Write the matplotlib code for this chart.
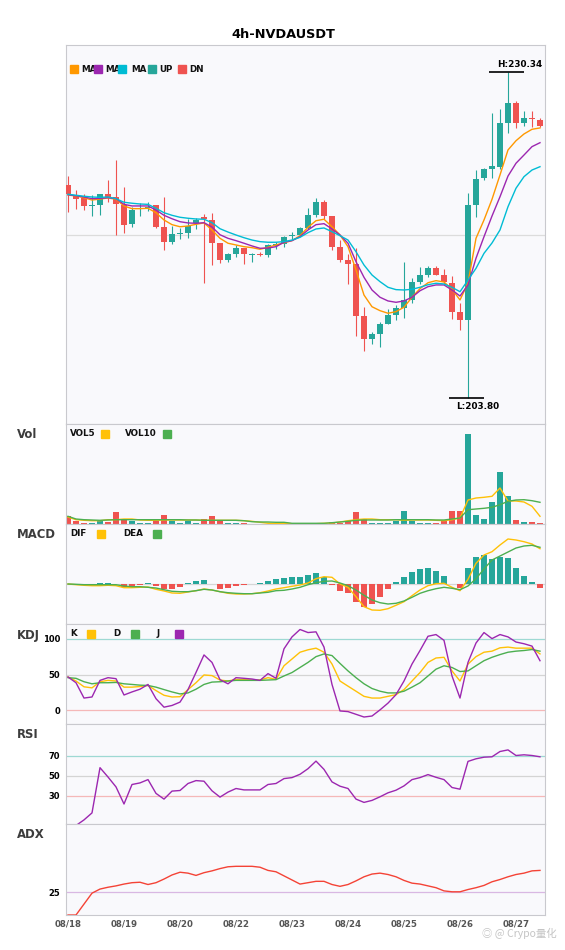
import matplotlib
matplotlib.use('Agg')
import matplotlib.pyplot as plt
from matplotlib.patches import Rectangle

plt.rcParams['font.family'] = ['DejaVu Sans', 'Noto Sans CJK SC']

title = '4h-NVDAUSDT'
date_pos = [0, 7, 14, 21, 28, 35, 42, 49, 56]
date_labels = ['08/18', '08/19', '08/20', '08/22', '08/23', '08/24', '08/25', '08/26', '08/27']

opens = [221.13, 220.26, 220.10, 219.45, 219.53, 220.40, 220.16, 219.48, 217.99, 219.18,
         219.26, 219.51, 217.70, 216.53, 217.18, 217.26, 218.02, 218.53, 218.29, 216.42,
         215.06, 215.55, 216.04, 215.47, 215.55, 215.45, 216.18, 216.34, 216.96, 217.05,
         217.66, 218.70, 219.73, 218.61, 216.10, 215.04, 214.74, 210.49, 208.62, 209.03,
         209.84, 210.55, 211.14, 211.79, 213.23, 213.82, 214.36, 213.82, 213.17, 210.81,
         210.20, 219.51, 221.68, 222.46, 222.62, 226.17, 227.80, 226.20, 226.60, 226.42]
highs = [221.86, 220.73, 220.43, 220.32, 220.40, 221.54, 223.16, 220.97, 219.32, 219.65,
         219.73, 219.51, 220.16, 217.80, 217.61, 218.35, 218.48, 218.78, 218.88, 216.42,
         215.63, 216.26, 216.04, 215.58, 215.69, 216.34, 216.46, 216.99, 217.29, 217.72,
         219.24, 220.08, 219.91, 218.61, 216.66, 215.53, 215.99, 211.20, 209.21, 209.98,
         211.06, 211.36, 214.90, 213.55, 214.49, 214.55, 214.55, 214.31, 213.74, 211.54,
         220.46, 222.35, 222.54, 226.98, 227.31, 230.34, 227.96, 227.15, 227.15, 226.58]
lows = [218.96, 219.18, 219.10, 218.64, 218.72, 219.73, 217.09, 217.26, 217.72, 218.64,
        219.02, 217.64, 215.88, 216.36, 216.77, 216.85, 217.58, 213.19, 214.63, 214.77,
        214.88, 215.31, 214.74, 214.90, 215.36, 215.31, 215.93, 216.12, 216.77, 216.99,
        217.58, 218.51, 218.35, 215.85, 214.88, 213.11, 208.89, 207.67, 208.21, 207.99,
        209.84, 210.16, 210.35, 211.57, 213.11, 213.68, 213.82, 213.06, 210.24, 209.35,
        203.80, 218.56, 221.54, 221.70, 222.47, 225.33, 225.79, 225.93, 225.82, 225.82]
closes = [220.38, 220.02, 219.45, 219.51, 220.40, 220.13, 219.61, 217.91, 219.13, 219.26,
          219.37, 217.74, 216.53, 217.15, 217.23, 217.80, 218.31, 218.41, 216.44, 215.06,
          215.53, 216.04, 215.55, 215.53, 215.47, 216.23, 216.30, 216.91, 217.07, 217.66,
          218.70, 219.73, 218.64, 216.12, 215.04, 214.74, 210.49, 208.64, 209.03, 209.86,
          210.57, 211.14, 211.79, 213.23, 213.82, 214.36, 213.82, 213.25, 210.81, 210.20,
          219.51, 221.60, 222.43, 222.68, 226.17, 227.80, 226.17, 226.55, 226.50, 225.93]

ma_fast = [220.32, 220.24, 220.10, 219.91, 219.99, 220.08, 219.97, 219.43, 219.21, 219.21,
           219.24, 218.88, 218.29, 217.91, 217.74, 217.80, 217.94, 218.05, 217.48, 216.80,
           216.40, 216.26, 216.12, 216.04, 215.91, 216.07, 216.26, 216.44, 216.61, 217.01,
           217.70, 218.23, 218.35, 217.74, 217.07, 216.12, 214.23, 212.19, 211.24, 210.92,
           210.71, 210.84, 211.20, 212.01, 212.71, 213.19, 213.36, 213.25, 212.66, 211.79,
           213.17, 216.80, 218.29, 219.97, 221.95, 223.98, 224.73, 225.28, 225.66, 225.77]
ma_mid = [220.34, 220.26, 220.16, 220.02, 220.05, 220.10, 220.02, 219.56, 219.43, 219.43,
          219.43, 219.10, 218.67, 218.39, 218.15, 218.05, 218.02, 218.07, 217.72, 217.09,
          216.80, 216.61, 216.40, 216.18, 215.99, 216.01, 216.12, 216.48, 216.61, 216.93,
          217.48, 217.91, 217.99, 217.56, 217.07, 216.40, 214.90, 213.63, 212.60, 212.01,
          211.71, 211.60, 211.71, 212.01, 212.54, 212.87, 213.01, 213.01, 212.60, 212.11,
          213.01, 215.18, 216.93, 218.61, 220.18, 221.86, 222.90, 223.57, 224.25, 224.57]
ma_slow = [220.38, 220.30, 220.22, 220.16, 220.13, 220.16, 220.02, 219.73, 219.65, 219.59,
           219.56, 219.24, 218.88, 218.67, 218.51, 218.43, 218.37, 218.35, 218.07, 217.58,
           217.31, 217.07, 216.85, 216.66, 216.53, 216.48, 216.48, 216.53, 216.66, 216.88,
           217.26, 217.56, 217.64, 217.34, 217.01, 216.66, 215.71, 214.63, 213.82, 213.28,
           212.82, 212.63, 212.60, 212.66, 212.82, 213.03, 213.15, 213.09, 212.82, 212.46,
           213.41, 214.36, 215.58, 216.42, 217.48, 219.37, 220.87, 221.81, 222.35, 222.62]

volume = [8.3, 3.3, 0.7, 1.3, 2.7, 1.7, 12.3, 5.3, 2.7, 1.3,
          0.7, 2.7, 9.3, 2.7, 0.7, 2.7, 0.7, 5.3, 8.3, 2.7,
          0.7, 0.7, 0.7, 0.3, 0.3, 0.5, 0.5, 0.3, 0.5, 0.3,
          1.3, 1.3, 0.7, 2.3, 0.7, 3.3, 12.3, 5.3, 1.3, 1.3,
          1.3, 2.7, 13.3, 3.3, 1.3, 1.3, 1.3, 2.7, 13.3, 13.3,
          90.3, 9.3, 5.3, 22.3, 52.3, 28.3, 4.3, 2.3, 2.3, 0.7]
vol5 = [7.0, 4.3, 3.7, 3.3, 3.3, 4.3, 4.3, 5.0, 5.0, 4.0,
        3.7, 3.7, 4.0, 4.0, 4.0, 4.0, 4.0, 3.7, 3.7, 3.7,
        3.7, 3.7, 3.3, 2.7, 1.7, 0.7, 0.3, 0.7, 0.3, 0.3,
        0.3, 0.3, 0.7, 1.0, 2.0, 3.3, 4.3, 5.0, 5.0, 4.3,
        4.3, 4.3, 3.7, 4.0, 4.0, 4.0, 3.7, 3.3, 4.3, 6.0,
        24.0, 26.0, 26.7, 27.7, 36.0, 23.0, 23.0, 22.0, 17.7, 7.7]
vol10 = [7.7, 5.0, 4.3, 4.0, 3.7, 4.0, 4.3, 4.3, 4.3, 4.3,
         4.3, 4.3, 4.3, 4.3, 4.3, 4.0, 4.0, 3.7, 3.7, 3.7,
         3.7, 3.7, 3.3, 2.3, 2.0, 2.0, 1.7, 1.7, 0.7, 0.7,
         0.7, 0.7, 0.7, 1.3, 2.0, 2.7, 3.7, 4.0, 4.0, 4.0,
         4.0, 4.3, 4.3, 4.3, 4.3, 4.3, 4.0, 4.0, 5.0, 6.0,
         14.3, 15.0, 15.7, 16.7, 19.3, 22.7, 24.0, 24.3, 23.3, 21.7]

macd_hist = [0, 0, 0, -1.3, 1.0, 1.0, 0, -2.7, -1.7, -1.0,
             1.0, -1.7, -5.0, -5.0, -2.7, 1.0, 3.3, 4.0, 0, -5.0,
             -3.7, -1.7, -0.7, 0, 1.0, 3.3, 5.0, 6.0, 7.0, 7.0,
             9.0, 11.0, 7.0, -0.7, -6.7, -8.7, -17.7, -22.7, -19.7, -12.7,
             -4.7, 2.0, 7.0, 12.0, 15.0, 16.0, 13.0, 8.0, 0, -3.7,
             16.0, 27.3, 29.0, 25.0, 27.0, 26.0, 16.0, 8.0, 2.0, -3.7]
dif = [0, -0.7, -1.3, -1.7, -1.7, -1.3, -1.7, -3.7, -3.7, -3.3,
       -3.0, -5.3, -7.0, -9.0, -9.3, -8.0, -6.7, -5.0, -6.0, -7.7,
       -9.3, -10.0, -10.0, -9.7, -8.7, -7.0, -5.0, -3.7, -2.3, -1.0,
       1.0, 5.3, 7.3, 6.7, 0, -3.3, -12.7, -22.7, -26.0, -26.3,
       -24.7, -21.3, -17.7, -11.7, -6.0, -1.7, 0.3, 0.7, -3.3, -6.7,
       4.7, 20.7, 29.0, 32.3, 39.0, 45.0, 44.0, 42.3, 40.0, 35.3]
dea = [0, -0.3, -0.7, -0.7, -0.7, -0.7, -0.7, -2.0, -2.7, -2.7,
       -3.3, -4.0, -5.7, -7.3, -7.7, -7.7, -6.7, -5.3, -6.0, -7.7,
       -8.7, -9.3, -9.7, -9.7, -9.0, -8.3, -6.7, -6.3, -5.0, -3.3,
       -0.7, 1.3, 2.7, 3.0, 1.0, -1.7, -6.0, -11.3, -16.0, -18.7,
       -20.0, -19.3, -17.0, -13.3, -9.3, -6.7, -4.7, -3.3, -4.3, -5.7,
       -2.0, 5.3, 15.0, 24.0, 28.0, 32.0, 36.0, 38.0, 38.7, 36.7]

k_line = [46.7, 41.0, 32.9, 31.4, 40.0, 41.9, 41.0, 32.4, 32.4, 33.3,
          34.8, 27.6, 21.0, 18.6, 19.0, 29.0, 38.6, 49.5, 48.6, 42.4,
          41.0, 43.3, 42.9, 42.4, 42.4, 45.7, 43.3, 62.4, 71.9, 81.4,
          84.8, 87.1, 81.4, 64.8, 41.0, 33.8, 26.7, 19.5, 17.1, 17.1,
          19.5, 21.9, 29.0, 41.0, 52.9, 67.1, 73.3, 74.3, 55.2, 41.0,
          64.8, 75.2, 81.4, 82.9, 87.6, 88.6, 87.1, 87.1, 87.1, 79.0]
d_line = [45.7, 44.8, 40.0, 37.1, 38.6, 38.6, 39.0, 37.1, 36.2, 35.2,
          34.8, 32.4, 29.0, 25.7, 22.9, 24.3, 29.5, 36.2, 39.5, 40.0,
          41.0, 41.9, 41.9, 41.9, 41.9, 42.4, 42.9, 48.1, 52.9, 60.0,
          67.1, 75.2, 79.0, 76.7, 65.7, 55.2, 45.7, 37.1, 30.5, 26.7,
          24.3, 24.3, 26.7, 32.4, 38.6, 48.1, 57.6, 62.4, 60.0, 54.3,
          55.2, 62.4, 69.5, 74.3, 78.1, 81.4, 82.9, 83.8, 85.2, 82.9]
j_line = [46.7, 38.6, 17.1, 18.6, 41.9, 45.7, 44.3, 21.4, 25.7, 29.5,
          36.2, 16.2, 4.3, 6.7, 11.4, 29.0, 53.0, 77.6, 67.1, 42.9,
          37.1, 45.7, 44.8, 43.8, 41.9, 51.4, 44.8, 86.2, 102.9, 113.3,
          109.0, 110.0, 88.6, 36.2, -1.0, -1.9, -5.7, -9.5, -8.1, 0.5,
          10.0, 21.9, 41.0, 64.8, 83.8, 103.8, 106.2, 98.1, 48.1, 17.1,
          67.1, 94.3, 109.0, 100.5, 106.2, 102.9, 95.7, 93.3, 90.0, 69.5]

rsi = [0, 0, 5.6, 12.6, 57.8, 48.5, 38.6, 21.5, 41.0, 42.6,
       45.9, 32.1, 26.4, 34.4, 35.0, 42.0, 44.9, 44.3, 34.7, 28.4,
       33.4, 37.0, 35.6, 35.6, 35.6, 41.0, 42.0, 46.9, 47.9, 51.2,
       56.8, 64.4, 56.1, 43.6, 39.3, 37.0, 26.4, 23.1, 25.1, 28.7,
       32.7, 35.3, 39.6, 45.9, 47.9, 50.9, 48.2, 45.9, 38.0, 36.3,
       64.1, 66.7, 68.3, 68.7, 74.0, 75.6, 70.0, 70.7, 70.0, 68.7]

adx = [20.0, 20.0, 22.4, 24.8, 25.7, 26.1, 26.4, 26.8, 27.1, 27.2,
       26.7, 27.1, 27.9, 28.8, 29.4, 29.2, 28.7, 29.3, 29.7, 30.2,
       30.6, 30.7, 30.7, 30.7, 30.5, 29.8, 29.5, 28.6, 27.7, 26.8,
       27.1, 27.4, 27.4, 26.7, 26.3, 26.7, 27.5, 28.4, 29.0, 29.2,
       28.9, 28.4, 27.6, 27.0, 26.8, 26.4, 26.0, 25.3, 25.1, 25.1,
       25.6, 26.0, 26.5, 27.3, 27.8, 28.4, 28.9, 29.2, 29.7, 29.8]

UP = '#26A69A'
DN = '#EF5350'
FACE = '#F9F9FC'
EDGE = '#C9C9CE'

W, H = 565, 950
fig = plt.figure(figsize=(W / 100, H / 100), dpi=100)
fig.patch.set_facecolor('white')


def panel(top, bottom):
    ax = fig.add_axes([66 / W, 1 - bottom / H, (545 - 66) / W, (bottom - top) / H])
    ax.set_facecolor(FACE)
    for s in ax.spines.values():
        s.set_color(EDGE)
        s.set_linewidth(0.8)
    ax.set_xlim(-0.25, 59.625)
    ax.set_xticks([])
    ax.set_yticks([])
    return ax


def square(x, y, color):
    fig.add_artist(Rectangle((x / W, 1 - (y + 4) / H), 8 / W, 8 / H, color=color,
                             transform=fig.transFigure, zorder=5))


def label(x, y, s, size=6.3, color='#111111'):
    fig.text(x / W, 1 - y / H, s, va='center', ha='left', fontsize=size,
             fontweight='bold', color=color)


xs = list(range(len(closes)))
colors = [UP if c >= o else DN for o, c in zip(opens, closes)]

fig.text(283 / W, 1 - 34 / H, title, ha='center', va='center', fontsize=9.3, fontweight='bold')

# price panel
ax = panel(45, 424)
ax.set_ylim(201.71, 232.51)
ax.axhline(217.07, color='#dcdcdc', lw=0.9, zorder=0)
for i in xs:
    ax.vlines(i, lows[i], highs[i], color=colors[i], lw=0.8, zorder=2)
    body = abs(closes[i] - opens[i])
    ax.bar(i, max(body, 0.09), bottom=min(opens[i], closes[i]), width=0.75,
           color=colors[i], zorder=3)
ax.plot(xs, ma_fast, color='#FF9800', lw=1.0, zorder=4)
ax.plot(xs, ma_mid, color='#9C27B0', lw=1.0, zorder=4)
ax.plot(xs, ma_slow, color='#00BCD4', lw=1.0, zorder=4)

hi = max(highs)
hi_i = highs.index(hi)
lo = min(lows)
lo_i = lows.index(lo)
ax.hlines(hi, hi_i - 2.4, hi_i + 2.0, color='black', lw=1.2, zorder=5)
ax.text(hi_i - 1.4, hi + 0.2, 'H:%.2f' % hi, fontsize=6.4, fontweight='bold', va='bottom')
ax.hlines(lo, lo_i - 2.4, lo_i + 2.0, color='black', lw=1.2, zorder=5)
ax.text(lo_i - 1.5, lo - 0.3, 'L:%.2f' % lo, fontsize=6.4, fontweight='bold', va='top')

label(81, 69, 'MA')
label(105, 69, 'MA')
label(131, 69, 'MA')
label(159, 69, 'UP')
label(189, 69, 'DN')
square(70, 69, '#FF9800')
square(94, 69, '#9C27B0')
square(118, 69, '#00BCD4')
square(148, 69, UP)
square(178, 69, DN)

# volume
ax = panel(424, 524)
ax.set_ylim(0, 100)
ax.bar(xs, volume, width=0.75, color=colors, zorder=2)
ax.plot(xs, vol5, color='#FFC107', lw=1.0, zorder=3)
ax.plot(xs, vol10, color='#4CAF50', lw=1.0, zorder=3)
label(17, 435, 'Vol', size=8.4, color='#3c3c3c')
label(70, 434, 'VOL5')
square(101, 434, '#FFC107')
label(125, 434, 'VOL10')
square(163, 434, '#4CAF50')

# macd
ax = panel(524, 624)
ax.set_ylim(-40, 60)
ax.axhline(0, color='#d6d6d6', lw=0.9, zorder=0)
ax.bar(xs, macd_hist, width=0.75, color=[UP if v >= 0 else DN for v in macd_hist], zorder=2)
ax.plot(xs, dif, color='#FFC107', lw=1.0, zorder=3)
ax.plot(xs, dea, color='#4CAF50', lw=1.0, zorder=3)
label(17, 535, 'MACD', size=8.4, color='#3c3c3c')
label(70, 534, 'DIF')
square(97, 534, '#FFC107')
label(123, 534, 'DEA')
square(153, 534, '#4CAF50')

# kdj
ax = panel(624, 724)
ax.set_ylim(-19.3, 121)
ax.axhline(100, color='#9ED9D3', lw=0.9, zorder=0)
ax.axhline(50, color='#d4d4d4', lw=0.9, zorder=0)
ax.axhline(0, color='#F5B8B8', lw=0.9, zorder=0)
ax.set_yticks([100, 50, 0])
ax.set_yticklabels(['100', '50', '0'], fontsize=6, fontweight='bold')
ax.tick_params(axis='y', length=0, pad=4)
ax.plot(xs, k_line, color='#FFC107', lw=1.0)
ax.plot(xs, d_line, color='#4CAF50', lw=1.0)
ax.plot(xs, j_line, color='#9C27B0', lw=1.0)
label(17, 635, 'KDJ', size=8.4, color='#3c3c3c')
label(70, 634, 'K')
square(87, 634, '#FFC107')
label(113, 634, 'D')
square(131, 634, '#4CAF50')
label(157, 634, 'J')
square(175, 634, '#9C27B0')

# rsi
ax = panel(724, 824)
ax.set_ylim(1.5, 101.5)
ax.axhline(70, color='#9ED9D3', lw=0.9, zorder=0)
ax.axhline(50, color='#d4d4d4', lw=0.9, zorder=0)
ax.axhline(30, color='#F5B8B8', lw=0.9, zorder=0)
ax.set_yticks([70, 50, 30])
ax.set_yticklabels(['70', '50', '30'], fontsize=6, fontweight='bold')
ax.tick_params(axis='y', length=0, pad=4)
ax.plot(xs, rsi, color='#9C27B0', lw=1.0)
label(17, 734, 'RSI', size=8.4, color='#3c3c3c')

# adx
ax = panel(824, 915)
ax.set_ylim(20, 40)
ax.axhline(25, color='#D9B8E3', lw=0.9, zorder=0)
ax.set_yticks([25])
ax.set_yticklabels(['25'], fontsize=6, fontweight='bold')
ax.tick_params(axis='y', length=0, pad=4)
ax.plot(xs, adx, color='#F44336', lw=1.0, clip_on=False)
ax.set_xticks(date_pos)
ax.set_xticklabels(date_labels, fontsize=6.2, fontweight='bold', color='#555555')
ax.tick_params(axis='x', length=0, pad=3)
label(17, 835, 'ADX', size=8.4, color='#3c3c3c')

fig.text(557 / W, 1 - 933 / H, '◎ @ Crypo量化', ha='right', va='center', fontsize=7.5,
         color='#c4c4c4', family=['Noto Sans CJK SC', 'DejaVu Sans'])

fig.savefig('out.png', dpi=100)
